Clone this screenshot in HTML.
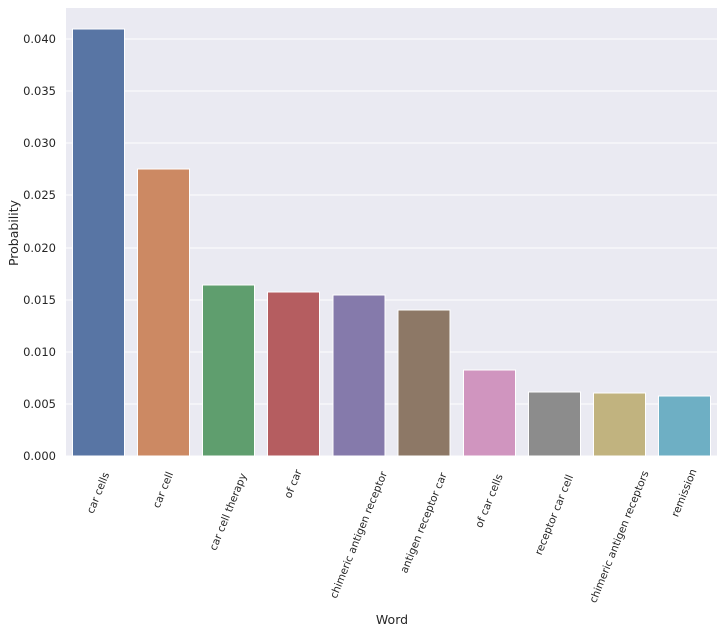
<!DOCTYPE html>
<html><head><style>body{margin:0;background:#fff}svg{display:block}text{font-family:"DejaVu Sans","Liberation Sans",sans-serif;fill:#262626}</style></head><body>
<svg width="725" height="634" xmlns="http://www.w3.org/2000/svg">
<rect x="66" y="8" width="651" height="448" fill="#eaeaf2"/>
<g stroke="#fff" stroke-width="1">
<line x1="66" x2="717" y1="456" y2="456"/><line x1="66" x2="717" y1="404" y2="404"/><line x1="66" x2="717" y1="352" y2="352"/><line x1="66" x2="717" y1="300" y2="300"/><line x1="66" x2="717" y1="248" y2="248"/><line x1="66" x2="717" y1="195" y2="195"/><line x1="66" x2="717" y1="143" y2="143"/><line x1="66" x2="717" y1="91" y2="91"/><line x1="66" x2="717" y1="39" y2="39"/>
</g>
<g font-size="11.5" text-anchor="end">
<text x="56" y="460">0.000</text><text x="56" y="408">0.005</text><text x="56" y="356">0.010</text><text x="56" y="304">0.015</text><text x="56" y="252">0.020</text><text x="56" y="199">0.025</text><text x="56" y="147">0.030</text><text x="56" y="95">0.035</text><text x="56" y="43">0.040</text>
</g>
<g stroke="#fff" stroke-width="1">
<rect x="72.5" y="29" width="52" height="427" fill="#5875a4"/>
<rect x="137.5" y="169" width="52" height="287" fill="#cc8963"/>
<rect x="202.5" y="285" width="52" height="171" fill="#5f9e6e"/>
<rect x="267.5" y="292" width="52" height="164" fill="#b55d60"/>
<rect x="333" y="295" width="52" height="161" fill="#857aab"/>
<rect x="398" y="310" width="52" height="146" fill="#8d7866"/>
<rect x="463.5" y="370" width="52" height="86" fill="#d095bf"/>
<rect x="528.5" y="392" width="52" height="64" fill="#8c8c8c"/>
<rect x="593.5" y="393" width="52" height="63" fill="#c1b37f"/>
<rect x="658.5" y="396" width="52" height="60" fill="#6eafc4"/>
</g>
<g font-size="10.5" text-anchor="middle" dominant-baseline="central">
<text transform="translate(98.5,493) rotate(-68)">car cells</text>
<text transform="translate(163.5,490) rotate(-68)">car cell</text>
<text transform="translate(228.5,512) rotate(-68)">car cell therapy</text>
<text transform="translate(293.5,484) rotate(-68)">of car</text>
<text transform="translate(359,535) rotate(-68)">chimeric antigen receptor</text>
<text transform="translate(424,523) rotate(-68)">antigen receptor car</text>
<text transform="translate(489.5,501) rotate(-68)">of car cells</text>
<text transform="translate(554.5,515) rotate(-68)">receptor car cell</text>
<text transform="translate(619.5,537) rotate(-68)">chimeric antigen receptors</text>
<text transform="translate(684.5,493) rotate(-68)">remission</text>
</g>
<text x="392" y="624" font-size="12.5" text-anchor="middle">Word</text>
<text transform="translate(18,233) rotate(-90)" font-size="12.5" text-anchor="middle">Probability</text>
</svg>
</body></html>
